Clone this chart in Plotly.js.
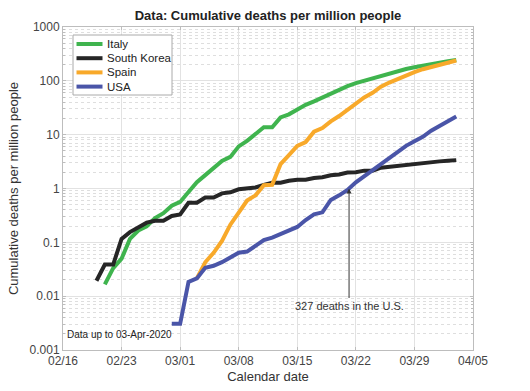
<!DOCTYPE html>
<html>
<head>
<meta charset="utf-8">
<script src="https://cdn.plot.ly/plotly-3.0.1.min.js"></script>
<style>html,body{margin:0;padding:0;background:#fff}#chart{width:530px;height:391px}</style>
</head>
<body>
<div id="chart"></div>
<script>
// Cumulative deaths per million people
const italyDates = ["2020-02-21","2020-02-22","2020-02-23","2020-02-24","2020-02-25","2020-02-26","2020-02-27","2020-02-28","2020-02-29",
"2020-03-01","2020-03-02","2020-03-03","2020-03-04","2020-03-05","2020-03-06","2020-03-07","2020-03-08","2020-03-09","2020-03-10",
"2020-03-11","2020-03-12","2020-03-13","2020-03-14","2020-03-15","2020-03-16","2020-03-17","2020-03-18","2020-03-19","2020-03-20",
"2020-03-21","2020-03-22","2020-03-23","2020-03-24","2020-03-25","2020-03-26","2020-03-27","2020-03-28","2020-03-29","2020-03-30",
"2020-03-31","2020-04-01","2020-04-02","2020-04-03"];
const italyValues = [0.0166,0.0331,0.0497,0.116,0.166,0.199,0.282,0.348,0.480,
0.563,0.861,1.31,1.77,2.45,3.26,3.86,6.06,7.67,10.45,
13.7,13.7,20.97,23.87,29.97,35.75,41.47,49.34,56.41,66.80,
79.94,90.72,100.68,112.99,124.30,136.10,151.33,166.05,178.58,192.03,
205.90,217.94,230.53,243.22];

const koreaDates = ["2020-02-20","2020-02-21","2020-02-22","2020-02-23","2020-02-24","2020-02-25","2020-02-26","2020-02-27","2020-02-28","2020-02-29",
"2020-03-01","2020-03-02","2020-03-03","2020-03-04","2020-03-05","2020-03-06","2020-03-07","2020-03-08","2020-03-09","2020-03-10",
"2020-03-11","2020-03-12","2020-03-13","2020-03-14","2020-03-15","2020-03-16","2020-03-17","2020-03-18","2020-03-19","2020-03-20",
"2020-03-21","2020-03-22","2020-03-23","2020-03-24","2020-03-25","2020-03-26","2020-03-27","2020-03-28","2020-03-29","2020-03-30",
"2020-03-31","2020-04-01","2020-04-02","2020-04-03"];
const koreaValues = [0.0193,0.0387,0.0387,0.116,0.155,0.193,0.232,0.251,0.251,0.309,
0.329,0.542,0.542,0.677,0.677,0.812,0.851,0.967,1.025,1.044,
1.161,1.277,1.277,1.393,1.451,1.451,1.567,1.625,1.760,1.818,
1.973,2.012,2.147,2.147,2.437,2.534,2.689,2.785,2.940,3.056,
3.133,3.191,3.269,3.366];

const spainDates = ["2020-03-03","2020-03-04","2020-03-05","2020-03-06","2020-03-07","2020-03-08","2020-03-09","2020-03-10",
"2020-03-11","2020-03-12","2020-03-13","2020-03-14","2020-03-15","2020-03-16","2020-03-17","2020-03-18","2020-03-19","2020-03-20",
"2020-03-21","2020-03-22","2020-03-23","2020-03-24","2020-03-25","2020-03-26","2020-03-27","2020-03-28","2020-03-29","2020-03-30",
"2020-03-31","2020-04-01","2020-04-02","2020-04-03"];
const spainValues = [0.0213,0.0426,0.0639,0.1065,0.213,0.362,0.597,0.746,
1.150,1.172,2.833,4.154,6.157,7.286,11.355,13.272,17.682,22.220,
29.293,37.750,49.233,59.821,77.695,92.991,109.459,127.439,144.930,164.380,
180.315,199.979,220.452,238.560];

const usaDates = ["2020-02-29","2020-03-01","2020-03-02","2020-03-03","2020-03-04","2020-03-05","2020-03-06","2020-03-07","2020-03-08","2020-03-09","2020-03-10",
"2020-03-11","2020-03-12","2020-03-13","2020-03-14","2020-03-15","2020-03-16","2020-03-17","2020-03-18","2020-03-19","2020-03-20",
"2020-03-21","2020-03-22","2020-03-23","2020-03-24","2020-03-25","2020-03-26","2020-03-27","2020-03-28","2020-03-29","2020-03-30",
"2020-03-31","2020-04-01","2020-04-02","2020-04-03"];
const usaValues = [0.00306,0.00306,0.01835,0.0214,0.0336,0.0367,0.0428,0.052,0.0642,0.0673,0.0856,
0.110,0.122,0.144,0.165,0.193,0.260,0.330,0.361,0.612,0.746,
0.939,1.306,1.688,2.159,2.881,3.697,4.835,6.196,7.544,9.107,
11.844,14.547,18.122,21.673];

const seriesNames = ["Italy","South Korea","Spain","USA"];
const seriesColors = ["#3fb44e","#262626","#f8a92a","#4a55a8"];

const xTickVals = ["2020-02-16","2020-02-23","2020-03-01","2020-03-08","2020-03-15","2020-03-22","2020-03-29","2020-04-05"];
const xTickText = ["02/16","02/23","03/01","03/08","03/15","03/22","03/29","04/05"];
const yTickVals = [0.001,0.01,0.1,1,10,100,1000];
const yTickText = ["0.001","0.01","0.1","1","10","100","1000"];

const referenceLevel = 1;
const annotationText = "327 deaths in the U.S.";
const annotationDate = "2020-03-21 04:30";
const noteText = "Data up to 03-Apr-2020";

const allX = [italyDates, koreaDates, spainDates, usaDates];
const allY = [italyValues, koreaValues, spainValues, usaValues];

const traces = seriesNames.map((n,i)=>({
  type:"scatter", mode:"lines", name:n, x:allX[i], y:allY[i],
  line:{color:seriesColors[i], width:4}, showlegend:false
}));

const font = "Liberation Sans, Arial, sans-serif";

// hand-built legend box (paper coordinates of the plot area)
const plotL = 63, plotR = 473, plotT = 27, plotB = 350;
const px = v => (v - plotL) / (plotR - plotL);
const py = v => (plotB - v) / (plotB - plotT);
const legendShapes = [{type:"rect", xref:"paper", yref:"paper", x0:px(73), x1:px(172), y0:py(95), y1:py(35),
  fillcolor:"#fff", line:{color:"#aaa", width:1}, layer:"above"}];
const legendAnn = [];
seriesNames.forEach((n,i)=>{
  const yy = 44 + i*14.2;
  legendShapes.push({type:"line", xref:"paper", yref:"paper", x0:px(76.5), x1:px(102.5), y0:py(yy), y1:py(yy),
    line:{color:seriesColors[i], width:4}, layer:"above"});
  legendAnn.push({xref:"paper", yref:"paper", x:px(105), y:py(yy), xanchor:"left", yanchor:"middle",
    showarrow:false, text:n, font:{family:font, size:11.5, color:"#222"}});
});

const layout = {
  width:530, height:391,
  margin:{l:plotL, r:530-plotR, t:plotT, b:391-plotB},
  paper_bgcolor:"#fff", plot_bgcolor:"#fff",
  font:{family:font, color:"#444", size:12},
  title:{text:"<b>Data: Cumulative deaths per million people</b>", font:{family:font,size:13,color:"#222"},
    x:0.5, xref:"paper", y:1-15/391, yref:"container", yanchor:"middle"},
  showlegend:false,
  xaxis:{type:"date", range:["2020-02-16","2020-04-05"], tickvals:xTickVals, ticktext:xTickText,
    showgrid:true, gridcolor:"#e2e2e2", gridwidth:1, zeroline:false,
    showline:true, linecolor:"#bdbdbd", linewidth:1, mirror:"ticks", ticks:"inside", ticklen:3, tickcolor:"#bdbdbd",
    tickfont:{family:font,size:12,color:"#444"},
    title:{text:"Calendar date", font:{family:font,size:13,color:"#333"}, standoff:4}},
  yaxis:{type:"log", range:[-3,3], tickvals:yTickVals, ticktext:yTickText,
    showgrid:true, gridcolor:"#e2e2e2", gridwidth:1, zeroline:false,
    showline:true, linecolor:"#bdbdbd", linewidth:1, mirror:"ticks", ticks:"inside", ticklen:3, tickcolor:"#bdbdbd",
    tickfont:{family:font,size:12,color:"#444"},
    minor:{dtick:"D1", showgrid:true, gridcolor:"#dedede", griddash:"dot", ticks:"inside", ticklen:2, tickcolor:"#bdbdbd"},
    title:{text:"Cumulative deaths per million people", font:{family:font,size:13,color:"#333"}, standoff:8}},
  shapes:[{type:"line", xref:"paper", x0:0, x1:1, yref:"y", y0:Math.log10(referenceLevel), y1:Math.log10(referenceLevel),
    line:{color:"#333", width:2}, layer:"above"}].concat(legendShapes),
  annotations:[
    {x:annotationDate, y:Math.log10(referenceLevel), xref:"x", yref:"y", text:annotationText,
     showarrow:true, arrowhead:2, arrowsize:1, arrowwidth:1, arrowcolor:"#333", ax:0, ay:117,
     font:{family:font,size:11,color:"#333"}},
    {x:0.006, y:0.047, xref:"paper", yref:"paper", xanchor:"left", yanchor:"middle", showarrow:false,
     text:noteText, font:{family:font,size:10,color:"#222"}}
  ].concat(legendAnn)
};

Plotly.newPlot("chart", traces, layout, {displayModeBar:false, staticPlot:true});
</script>
</body>
</html>
